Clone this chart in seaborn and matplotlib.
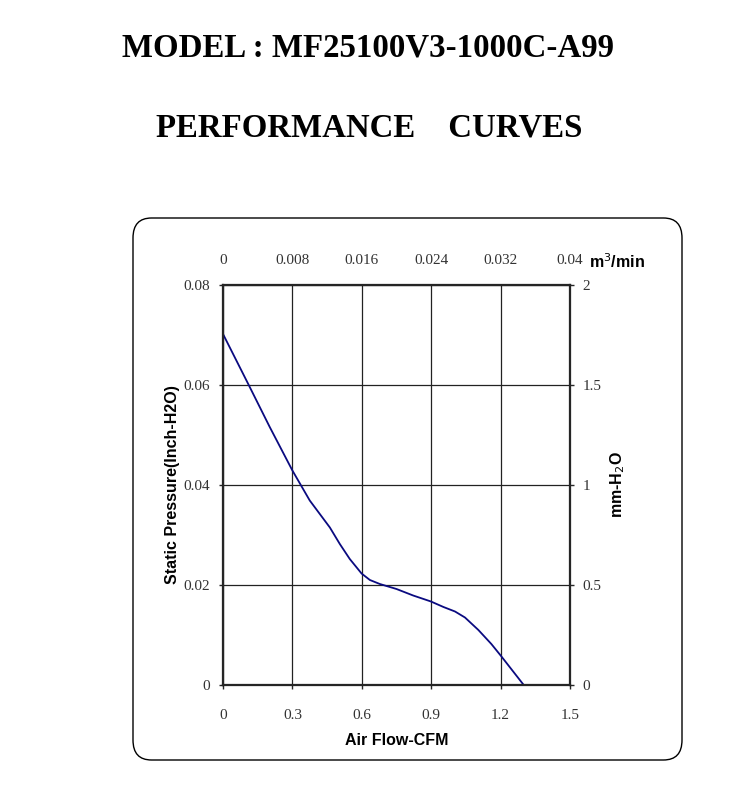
import matplotlib
matplotlib.use("Agg")
import matplotlib.pyplot as plt
import seaborn as sns
import pandas as pd
from matplotlib.patches import FancyBboxPatch

# Data
airflow_cfm = [0.0, 0.108, 0.202, 0.300, 0.375, 0.462, 0.505, 0.548, 0.599, 0.635,
               0.678, 0.750, 0.822, 0.899, 0.953, 1.003, 1.046, 1.104, 1.160,
               1.202, 1.300]
pressure_inh2o = [0.0702, 0.0603, 0.0516, 0.0429, 0.0369, 0.0315, 0.0282, 0.0252,
                  0.0223, 0.0210, 0.0202, 0.0192, 0.0179, 0.0167, 0.0156, 0.0147,
                  0.0135, 0.0110, 0.0082, 0.0058, 0.0]

bottom_ticks = [0, 0.3, 0.6, 0.9, 1.2, 1.5]
bottom_labels = ["0", "0.3", "0.6", "0.9", "1.2", "1.5"]
left_ticks = [0, 0.02, 0.04, 0.06, 0.08]
left_labels = ["0", "0.02", "0.04", "0.06", "0.08"]
top_ticks = [0, 0.008, 0.016, 0.024, 0.032, 0.04]
top_labels = ["0", "0.008", "0.016", "0.024", "0.032", "0.04"]
right_ticks = [0, 0.5, 1, 1.5, 2]
right_labels = ["0", "0.5", "1", "1.5", "2"]

df = pd.DataFrame({"cfm": airflow_cfm, "p": pressure_inh2o})

sns.set_theme(style="white")
plt.rcParams["font.family"] = ["Liberation Serif", "DejaVu Serif"]
plt.rcParams["text.color"] = "black"
plt.rcParams["axes.labelcolor"] = "black"

fig = plt.figure(figsize=(7.4, 7.98), dpi=100)
fig.patch.set_facecolor("white")

# rounded frame
box = FancyBboxPatch((133/740, 1-760/798), (682-133)/740, (760-218)/798,
                     boxstyle="round,pad=0,rounding_size=0.025",
                     transform=fig.transFigure, facecolor="none",
                     edgecolor="black", linewidth=1.0)
fig.patches.append(box)

fig.text(368/740, 1-48/798, "MODEL : MF25100V3-1000C-A99", ha="center", va="center",
         fontsize=23.7, fontweight="bold", family="Liberation Serif", color="black")
fig.text(369/740, 1-128/798, "PERFORMANCE    CURVES", ha="center", va="center",
         fontsize=23.7, fontweight="bold", family="Liberation Serif", color="black")

ax = fig.add_axes([223/740, 1-685/798, (570-223)/740, (685-285)/798])
sns.lineplot(data=df, x="cfm", y="p", ax=ax, color="#0a0a80", linewidth=1.3)

ax.set_xlim(0, 1.5)
ax.set_ylim(0, 0.08)
ax.set_xticks(bottom_ticks)
ax.set_xticklabels(bottom_labels)
ax.set_yticks(left_ticks)
ax.set_yticklabels(left_labels)
ax.grid(True, color="#222222", linewidth=0.9)
for s in ax.spines.values():
    s.set_linewidth(1.6)
    s.set_color("black")
ax.tick_params(axis="x", direction="out", length=3, width=1, pad=14,
               labelsize=11, labelcolor="#333333", bottom=True)
ax.tick_params(axis="y", direction="out", length=3, width=1, pad=6,
               labelsize=11, labelcolor="#333333", left=True)
ax.set_xlabel("Air Flow-CFM", family="Liberation Sans", fontweight="bold",
              fontsize=11.5, labelpad=8, color="black")
ax.set_ylabel("Static Pressure(Inch-H2O)", family="Liberation Sans", fontweight="bold",
              fontsize=11.5, labelpad=3, color="black")

axt = ax.twiny()
axt.set_xlim(0, 0.04)
axt.set_xticks(top_ticks)
axt.set_xticklabels(top_labels)
axt.tick_params(axis="x", direction="out", length=0, pad=13, labelsize=11,
                labelcolor="#333333", top=True)
axt.grid(False)

axr = ax.twinx()
axr.set_ylim(0, 2)
axr.set_yticks(right_ticks)
axr.set_yticklabels(right_labels)
axr.tick_params(axis="y", direction="out", length=3, width=1, pad=6, labelsize=11,
                labelcolor="#333333", right=True)
axr.grid(False)
axr.set_ylabel("mm-H$_2$O", family="Liberation Sans", fontweight="bold",
               fontsize=11.5, labelpad=5, rotation=90, color="black")

fig.text(617/740, 1-262/798, "m$^3$/min", ha="center", va="center",
         family="Liberation Sans", fontweight="bold", fontsize=11.5, color="black")

fig.savefig("out.png", dpi=100)
